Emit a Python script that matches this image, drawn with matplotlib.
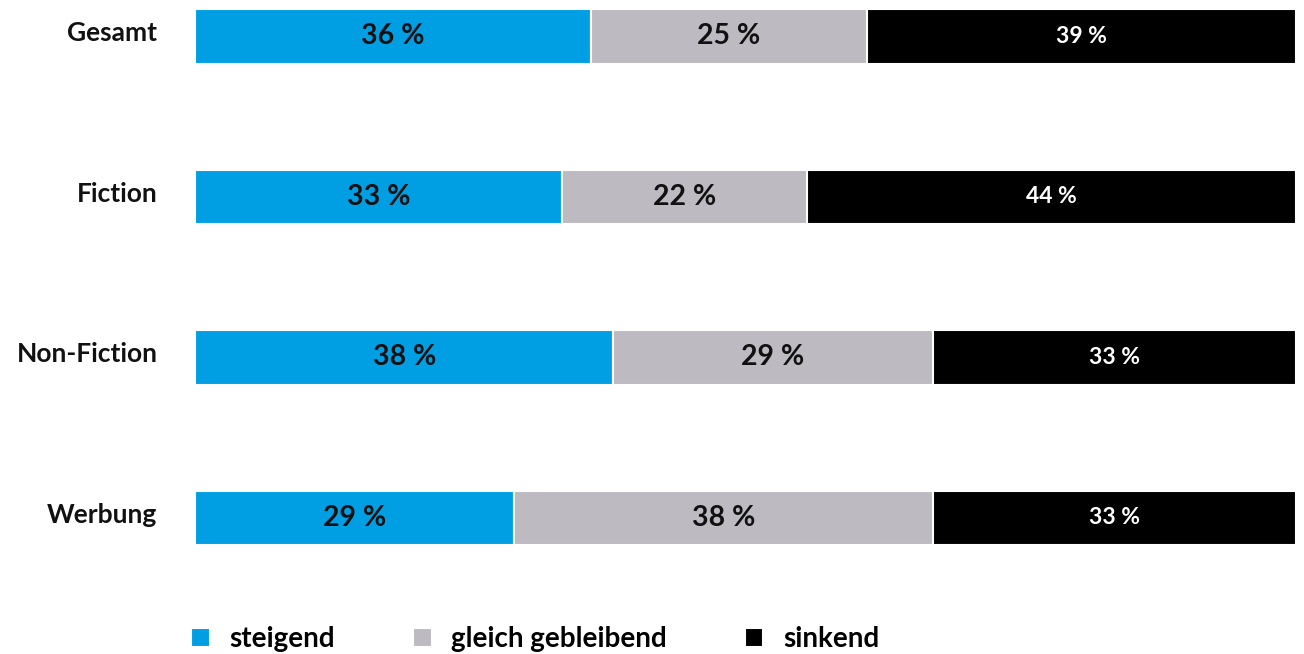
import matplotlib.pyplot as plt
from matplotlib.transforms import ScaledTranslation

plt.rcParams['font.family'] = ['Lato', 'DejaVu Sans']

categories = ['Gesamt', 'Fiction', 'Non-Fiction', 'Werbung']
steigend = [36, 33, 38, 29]
gleich = [25, 22, 29, 38]
sinkend = [39, 44, 33, 33]
series_names = ['steigend', 'gleich gebleibend', 'sinkend']
colors = ['#009fe3', '#bdbbc1', '#000000']

fig = plt.figure(figsize=(13.04, 6.54), dpi=100)
fig.patch.set_facecolor('white')
ax = fig.add_axes([195 / 1304, 0.1589, (1296 - 195) / 1304, 0.8344])

ys = list(range(len(categories)))
left = [0] * len(categories)
series = [steigend, gleich, sinkend]
for k, vals in enumerate(series):
    widths = []
    for i in range(len(categories)):
        total = steigend[i] + gleich[i] + sinkend[i]
        widths.append(vals[i] / total * 100)
    bars = ax.barh(ys, widths, left=left, height=0.34, color=colors[k],
                   edgecolor='white', linewidth=1.5, label=series_names[k])
    for i, b in enumerate(bars):
        cx = b.get_x() + b.get_width() / 2
        if k == 2:
            ax.text(cx, ys[i], f'{vals[i]} %', ha='center', va='center',
                    color='white', fontsize=16.5, fontweight='bold')
        else:
            ax.text(cx, ys[i], f'{vals[i]} %', ha='center', va='center',
                    color='#111111', fontsize=20.5, fontweight='bold')
    left = [left[i] + widths[i] for i in range(len(categories))]

ax.set_xlim(0, 100)
ax.set_ylim(3.2, -0.2)
ax.set_yticks(ys)
ax.set_yticklabels(categories, fontsize=19, fontweight='bold', color='#111111')
ax.tick_params(axis='y', length=0, pad=27)
# labels sit a little above the bar centre in the original
shift = ScaledTranslation(0, 0.05, fig.dpi_scale_trans)
for lab in ax.get_yticklabels():
    lab.set_transform(lab.get_transform() + shift)
ax.set_xticks([])
for s in ax.spines.values():
    s.set_visible(False)

fig.legend(loc='center left', bbox_to_anchor=(191 / 1304, 1 - 639 / 654),
           ncol=3, frameon=False, prop={'weight': 'bold', 'size': 20},
           handlelength=0.68, handleheight=0.7, handletextpad=0.7,
           columnspacing=2.8, borderpad=0, borderaxespad=0)

fig.savefig('out.png', dpi=100)
